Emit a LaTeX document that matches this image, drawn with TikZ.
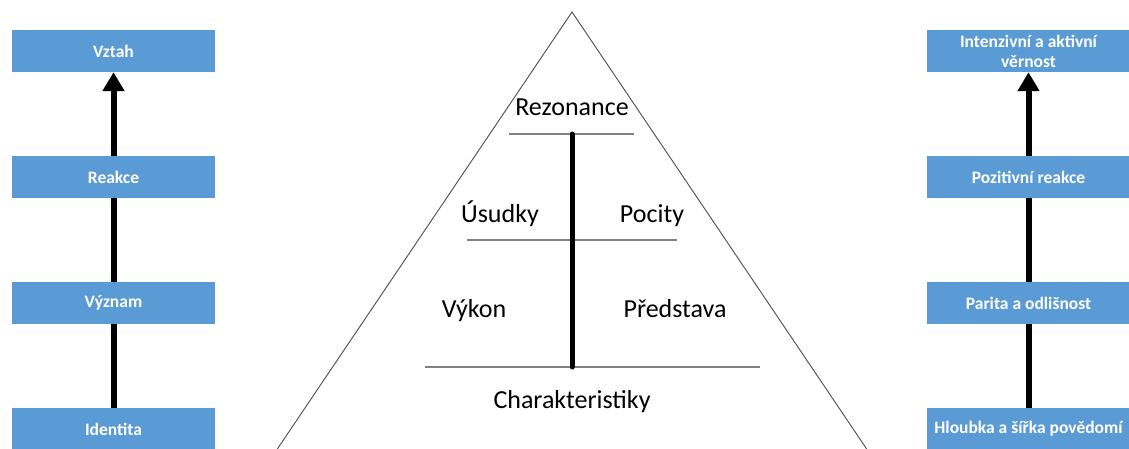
\documentclass[tikz,border=0pt]{standalone}
\usepackage{fontspec}
\setmainfont{Carlito}
\usetikzlibrary{
  arrows.meta,
  positioning
}
\definecolor{boxblue}{HTML}{5B9BD5}

\begin{document}
\begin{tikzpicture}[x=1pt,y=-1pt,>={Triangle[length=19pt,width=21pt]},
  stage/.style={fill=boxblue,minimum width=203pt,minimum height=42pt,inner sep=0pt,
    text=white,align=center,font=\fontsize{17.5}{20}\selectfont\bfseries},
  level/.style={font=\fontsize{26}{28}\selectfont,text height=18pt,text depth=5pt},
  rung/.style={line width=6pt},
  divider/.style={draw=gray,line width=1.4pt}]
  \useasboundingbox (0,0) rectangle (1129,448);
  % left ladder
  \node[stage] (vztah)    at (113.5,51)  {Vztah};
  \node[stage] (reakce)   at (113.5,177) {Reakce};
  \node[stage] (vyznam)   at (113.5,303) {Význam};
  \node[stage] (identita) at (113.5,429) {Identita};
  \draw[rung]    (identita) -- (vyznam);
  \draw[rung]    (vyznam) -- (reakce);
  \draw[rung,->] (reakce) -- (vztah);
  % right ladder
  \node[stage] (vernost)   at (1028.5,51)  {Intenzivní a aktivní\\věrnost};
  \node[stage] (pozitivni) at (1028.5,177) {Pozitivní reakce};
  \node[stage] (parita)    at (1028.5,303) {Parita a odlišnost};
  \node[stage] (hloubka)   at (1028.5,429) {Hloubka a šířka povědomí};
  \draw[rung]    (hloubka) -- (parita);
  \draw[rung]    (parita) -- (pozitivni);
  \draw[rung,->] (pozitivni) -- (vernost);
  % pyramid
  \coordinate (apex) at (572,12);
  \coordinate (bl)   at (275.3,452);
  \coordinate (br)   at (868.7,452);
  \draw[draw=black!70,line width=0.9pt] (apex) -- (bl) -- (br) -- cycle;
  \draw[divider] (509,134) -- (634,134);
  \draw[divider] (467,240) -- (677,240);
  \draw[divider] (425,367) -- (760,367);
  \coordinate (top) at (572,134);
  \coordinate (bot) at (572,367);
  \draw[line width=5pt,line cap=round] (top) -- (bot);
  \node[level] (rez)       at (572,108.5) {Rezonance};
  \node[level] (usudky)    at (500,215.5) {Úsudky};
  \node[level] (pocity)    at (652,215.5) {Pocity};
  \node[level] (vykon)     at (474,310.5) {Výkon};
  \node[level] (predstava) at (675,310.5) {Představa};
  \node[level] (charak)    at (572,402)   {Charakteristiky};
\end{tikzpicture}
\end{document}
